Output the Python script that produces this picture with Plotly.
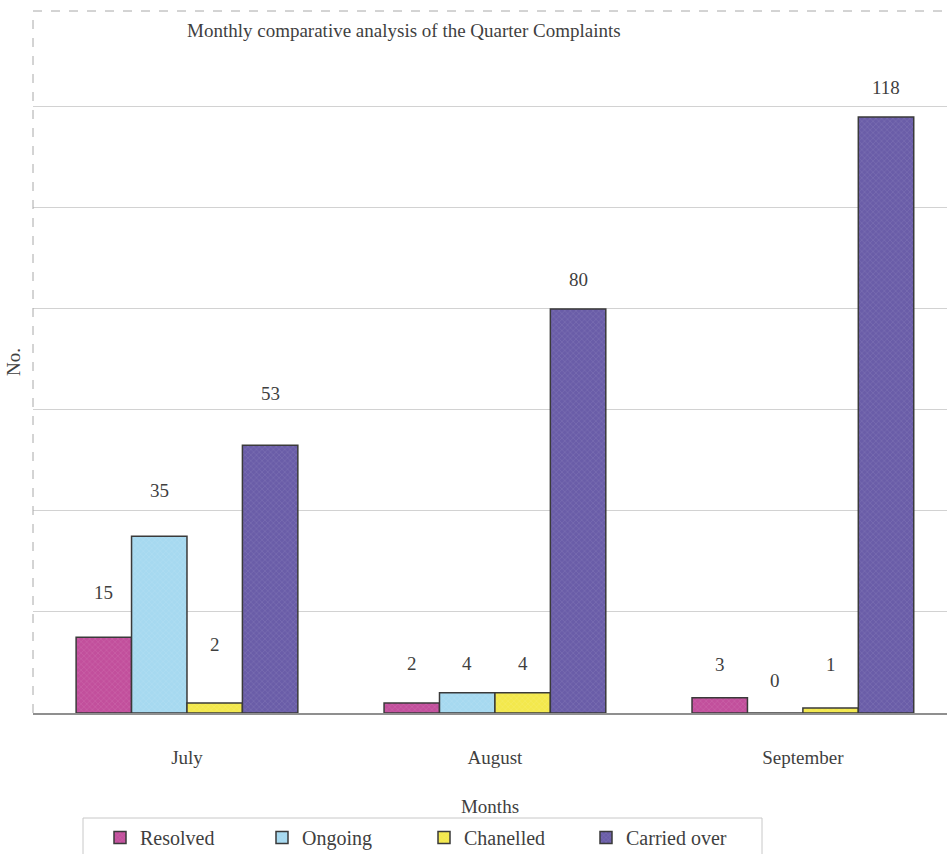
import plotly.graph_objects as go

# Quarterly complaints, by month and status
months = ["July", "August", "September"]
series_names = ["Resolved", "Ongoing", "Chanelled", "Carried over"]
resolved = [15, 2, 3]
ongoing = [35, 4, 0]
chanelled = [2, 4, 1]
carried_over = [53, 80, 118]

values = [resolved, ongoing, chanelled, carried_over]
colors = ["#c24f9c", "#a6d9f0", "#f3e84c", "#6a5da8"]
# vertical offset (px) of each value label above its bar, per series
label_shift = [
    [45, 39, 33],
    [46, 29, 33],
    [58, 29, 43],
    [52, 29, 30],
]

FONT = "'Liberation Serif', 'Times New Roman', serif"
TXT = "#3f3f3f"

fig = go.Figure()
for name, vals, col in zip(series_names, values, colors):
    fig.add_trace(go.Bar(
        name=name,
        x=months,
        y=vals,
        marker=dict(
            color=col,
            line=dict(color="#3a3a3a", width=1.5),
            pattern=dict(shape="x", size=4, solidity=0.2,
                         fgcolor="#ffffff", fgopacity=0.18),
        ),
        hoverinfo="x+y+name",
    ))

n = len(series_names)
group_frac = 1 - 0.28
bar_w = group_frac / n
annotations = []
for si, vals in enumerate(values):
    for mi, v in enumerate(vals):
        xoff = -group_frac / 2 + bar_w * (si + 0.5)
        annotations.append(dict(
            x=mi + xoff, y=v, xref="x", yref="y",
            text=str(v), showarrow=False,
            yanchor="middle", yshift=label_shift[si][mi],
            font=dict(family=FONT, size=19, color=TXT),
        ))

# plot-area pixel geometry: left 33, top 11, bottom 713
PL, PT, PB, PW = 33, 11, 713, 914
PH = PB - PT

def px_x(x):
    return (x - PL) / PW

def px_y(y):
    return (PB - y) / PH

fig.update_layout(
    width=947, height=854,
    margin=dict(l=PL, r=0, t=PT, b=854 - PB),
    paper_bgcolor="white", plot_bgcolor="white",
    barmode="group", bargap=0.28, bargroupgap=0,
    font=dict(family=FONT, size=19, color=TXT),
    annotations=annotations + [
        dict(text="Monthly comparative analysis of the Quarter Complaints",
             xref="paper", yref="paper", x=px_x(185), y=px_y(31),
             xanchor="left", yanchor="middle", showarrow=False,
             font=dict(family=FONT, size=19, color=TXT)),
    ],
    xaxis=dict(
        type="category", range=[-0.5, 2.468],
        showgrid=False, zeroline=False,
        showline=True, linecolor="#8f8f8f", linewidth=1.5,
        ticks="", ticklabelstandoff=26,
        tickfont=dict(family=FONT, size=19, color=TXT),
        title=dict(text="Months", standoff=33,
                   font=dict(family=FONT, size=19, color=TXT)),
    ),
    yaxis=dict(
        range=[0, 139], dtick=20,
        showgrid=True, gridcolor="#d2d2d2", gridwidth=1,
        zeroline=False, showticklabels=False, ticks="",
        title=dict(text="No.", standoff=6,
                   font=dict(family=FONT, size=19, color=TXT)),
    ),
    legend=dict(
        orientation="h", xref="container", yref="container",
        x=100 / 947, y=1 - 818 / 854, xanchor="left", yanchor="top",
        bgcolor="rgba(0,0,0,0)", borderwidth=0,
        entrywidth=117, itemwidth=30,
        font=dict(family=FONT, size=20, color=TXT),
    ),
    shapes=[
        dict(type="line", xref="paper", yref="paper", x0=0, x1=0, y0=0, y1=1,
             line=dict(color="#a8a8a8", width=1, dash="dash")),
        dict(type="line", xref="paper", yref="paper", x0=0, x1=1, y0=1, y1=1,
             line=dict(color="#a8a8a8", width=1, dash="dash")),
        # legend frame
        dict(type="rect", xref="paper", yref="paper",
             x0=px_x(83), x1=px_x(762), y0=px_y(818), y1=px_y(870),
             line=dict(color="#c8c8c8", width=1), fillcolor="rgba(0,0,0,0)"),
    ],
)

fig.write_html("out.html")
